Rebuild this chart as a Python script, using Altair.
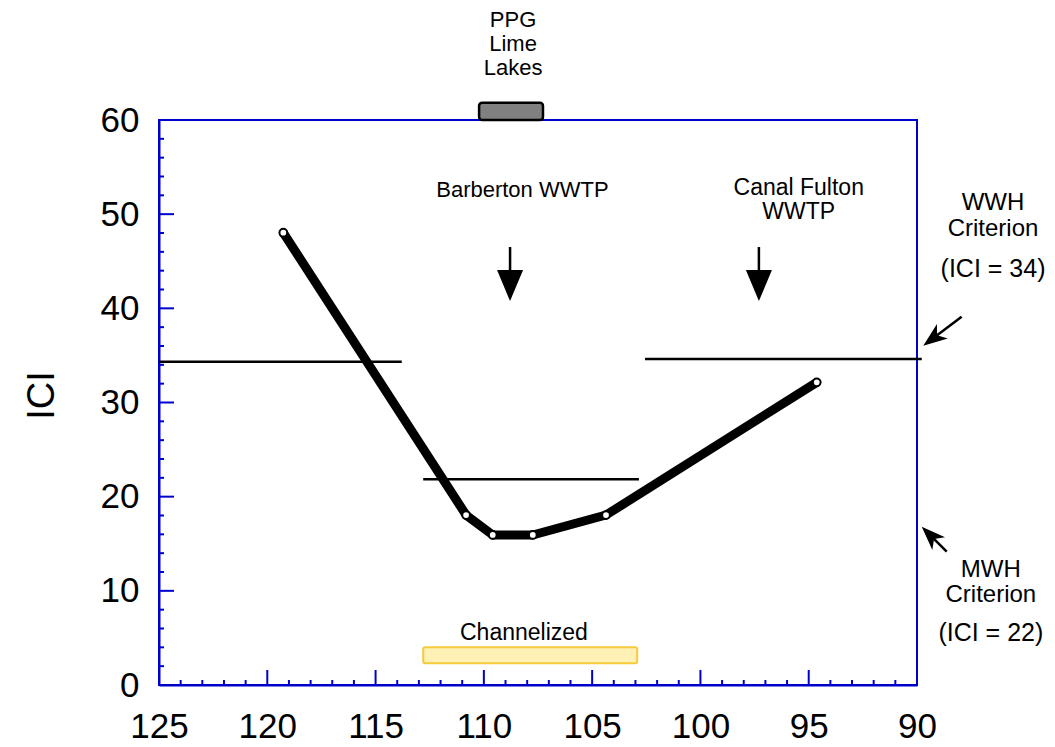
import altair as alt
import pandas as pd

# ---- data ----
river_mile = [119.26, 110.82, 109.59, 107.74, 104.36, 94.63]
ici = [48.03, 18.05, 15.93, 15.93, 18.05, 32.14]

crit_start = [125.0, 112.8, 102.56]
crit_end = [113.79, 102.84, 89.78]
crit_value = [34.33, 21.84, 34.62]

x_tick_labels = [125, 120, 115, 110, 105, 100, 95, 90]
y_tick_labels = [0, 10, 20, 30, 40, 50, 60]
x_major = [120, 115, 110, 105, 100, 95]
x_minor = [v for v in range(91, 125) if v % 5 != 0]
y_major = [10, 20, 30, 40, 50]
y_minor = [v for v in range(2, 60, 2) if v % 10 != 0]

# reach bars
bar_label = ["PPG Lime Lakes", "Channelized"]
bar_x1 = [110.22, 112.80]
bar_x2 = [107.27, 102.92]
bar_y1 = [60.0, 2.30]
bar_y2 = [61.84, 4.00]

# text annotations (y = centre of first line)
ann_text = ["PPG\nLime\nLakes", "Barberton WWTP", "Canal Fulton\nWWTP", "WWH", "Criterion",
            "(ICI = 34)", "MWH", "Criterion", "(ICI = 22)", "Channelized"]
ann_x = [108.65, 108.22, 95.46, 86.49, 86.49, 86.49, 86.59, 86.59, 86.59, 108.15]
ann_y = [70.62, 52.57, 52.75, 51.20, 48.45, 44.14, 12.26, 9.51, 5.49, 5.52]
ann_size = [22, 22, 23, 24, 24, 25, 24, 24, 25, 23]

# outfall arrows (vertical)
outfall_x = [108.79, 97.30]
outfall_top = [46.51, 46.51]
outfall_head = [42.42, 42.42]
outfall_shaft_end = [43.4, 43.4]

# criterion arrows (outside the frame)
crit_arrow_tail_x = [87.94, 88.63]
crit_arrow_tail_y = [39.11, 14.16]
crit_arrow_head_x = [89.27, 89.39]
crit_arrow_head_y = [36.80, 15.91]
crit_arrow_angle = [52.9, 135.0]

W, H = 758, 565
BLUE = "#0000cc"
FONT = "Liberation Sans"

xs = alt.Scale(domain=[90, 125], reverse=True, nice=False, zero=False)
ys = alt.Scale(domain=[0, 60], nice=False, zero=False)

x_axis = alt.Axis(values=x_tick_labels, title="", ticks=False, grid=False, domainColor=BLUE,
                  domainWidth=2, labelFontSize=35, labelPadding=24, labelFlush=False,
                  labelOverlap=False, labelColor="black", labelFont=FONT)
y_axis = alt.Axis(values=y_tick_labels, title="ICI", ticks=False, grid=False, domainColor=BLUE,
                  domainWidth=2, labelFontSize=35, labelPadding=20, labelFlush=False,
                  labelOverlap=False, labelColor="black", labelFont=FONT,
                  titleFontSize=38, titleFontWeight="normal", titleFont=FONT, titleAngle=270,
                  titleX=-106, titleY=275, titleAlign="center", titleBaseline="alphabetic",
                  titleColor="black")


def X(field):
    return alt.X(field, type="quantitative", scale=xs, axis=x_axis)


def Y(field):
    return alt.Y(field, type="quantitative", scale=ys, axis=y_axis)


line_df = pd.DataFrame({"rm": river_mile, "ici": ici})
crit_df = pd.DataFrame({"x1": crit_start, "x2": crit_end, "y": crit_value})
bar_df = pd.DataFrame({"label": bar_label, "x1": bar_x1, "x2": bar_x2, "y1": bar_y1, "y2": bar_y2})
ann_df = pd.DataFrame({"t": ann_text, "x": ann_x, "y": ann_y, "s": ann_size})
out_df = pd.DataFrame({"x": outfall_x, "top": outfall_top, "head": outfall_head, "send": outfall_shaft_end})
carr_df = pd.DataFrame({"tx": crit_arrow_tail_x, "ty": crit_arrow_tail_y, "hx": crit_arrow_head_x,
                        "hy": crit_arrow_head_y, "a": crit_arrow_angle})
xmaj_df = pd.DataFrame({"v": x_major})
xmin_df = pd.DataFrame({"v": x_minor})
ymaj_df = pd.DataFrame({"v": y_major})
ymin_df = pd.DataFrame({"v": y_minor})

base_line = alt.Chart(line_df).mark_line(color="black", strokeWidth=9, strokeJoin="round").encode(
    x=X("rm"), y=Y("ici"), order=alt.Order("rm:Q", sort="descending"))
pts = alt.Chart(line_df).mark_point(shape="circle", filled=True, fill="white", stroke="black",
                                    strokeWidth=2, size=60, opacity=1).encode(x=X("rm"), y=Y("ici"))

crit = alt.Chart(crit_df).mark_rule(color="black", strokeWidth=2.5).encode(
    x=X("x1"), x2="x2", y=Y("y"))

gray = alt.Chart(bar_df[bar_df.label == "PPG Lime Lakes"]).mark_rect(
    fill="#808080", stroke="black", strokeWidth=2.5, cornerRadius=3).encode(
    x=X("x1"), x2="x2", y=Y("y1"), y2="y2")
yellow = alt.Chart(bar_df[bar_df.label == "Channelized"]).mark_rect(
    fill="#fff0b5", stroke="#f6ca3a", strokeWidth=2, cornerRadius=2).encode(
    x=X("x1"), x2="x2", y=Y("y1"), y2="y2")

texts = alt.Chart(ann_df).mark_text(font=FONT, color="black", align="center", baseline="middle",
                                    lineBreak="\n", lineHeight=24).encode(
    x=X("x"), y=Y("y"), text="t:N", size=alt.Size("s:Q", scale=None))

out_shaft = alt.Chart(out_df).mark_rule(color="black", strokeWidth=2.5).encode(
    x=X("x"), y=Y("top"), y2="send")
out_head = alt.Chart(out_df).mark_point(shape="M-0.84,-1L0.84,-1L0,1Z", filled=True, color="black",
                                        size=961, opacity=1).encode(x=X("x"), y=Y("head"))

carr_shaft = alt.Chart(carr_df).mark_rule(color="black", strokeWidth=2.5).encode(
    x=X("tx"), y=Y("ty"), x2="hx", y2="hy")
carr_head = alt.Chart(carr_df).mark_point(shape="M0,1L-0.75,-1L0,-0.45L0.75,-1Z", filled=True,
                                          color="black", size=576, opacity=1).encode(
    x=X("hx"), y=Y("hy"), angle=alt.Angle("a:Q", scale=None))

xmaj = alt.Chart(xmaj_df).mark_rule(color=BLUE, strokeWidth=2).encode(
    x=X("v"), y=alt.value(H), y2=alt.value(H - 15))
xmin = alt.Chart(xmin_df).mark_rule(color=BLUE, strokeWidth=2).encode(
    x=X("v"), y=alt.value(H), y2=alt.value(H - 5))
ymaj = alt.Chart(ymaj_df).mark_rule(color=BLUE, strokeWidth=2).encode(
    y=Y("v"), x=alt.value(0), x2=alt.value(15))
ymin = alt.Chart(ymin_df).mark_rule(color=BLUE, strokeWidth=2).encode(
    y=Y("v"), x=alt.value(0), x2=alt.value(5))

chart = alt.layer(
    xmaj, xmin, ymaj, ymin, crit, yellow, gray, base_line, pts, texts,
    out_shaft, out_head, carr_shaft, carr_head
).properties(
    width=W, height=H,
    autosize=alt.AutoSizeParams(type="none"),
    padding={"left": 159, "top": 120, "right": 138, "bottom": 62},
    background="white",
).configure(font=FONT).configure_view(stroke=BLUE, strokeWidth=2)

chart.save("out.html", embed_options={"renderer": "svg", "actions": False})
